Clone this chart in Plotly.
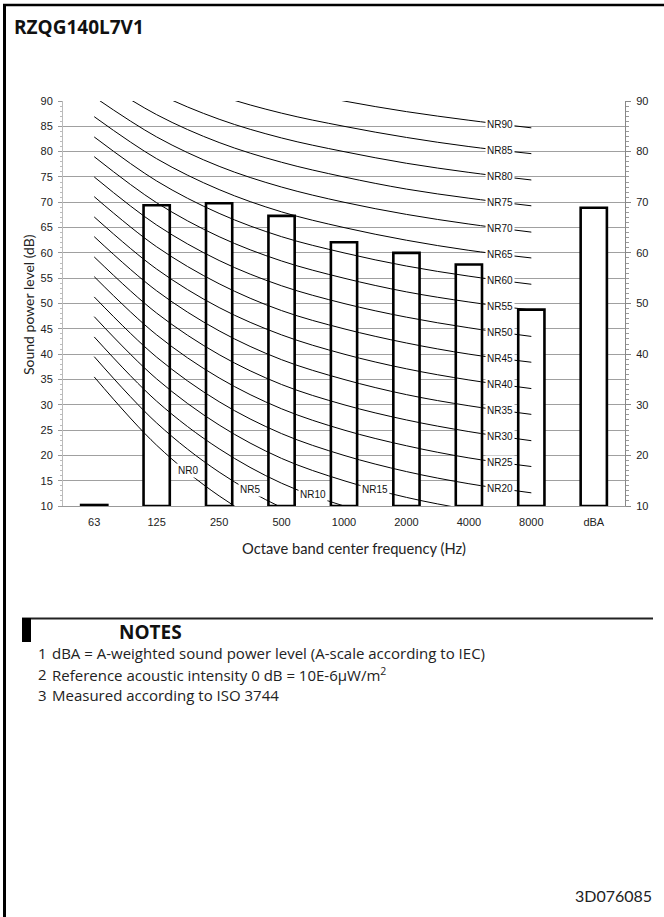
import plotly.graph_objects as go

# ---------------- data ----------------
title_text = "RZQG140L7V1"
bands = ["63", "125", "250", "500", "1000", "2000", "4000", "8000", "dBA"]
sound_power = [10.2, 69.4, 69.8, 67.3, 62.1, 60.0, 57.7, 48.8, 68.9]

nr_bands = ["63", "125", "250", "500", "1000", "2000", "4000", "8000"]
nr0 = [35.5, 22.0, 12.0, 4.8, 0.0, -3.5, -6.1, -8.0]
nr5 = [39.5, 26.4, 16.7, 9.7, 5.0, 1.6, -1.0, -2.9]
nr10 = [43.4, 30.7, 21.3, 14.5, 10.0, 6.7, 4.2, 2.3]
nr15 = [47.4, 35.1, 26.0, 19.4, 15.0, 11.7, 9.3, 7.5]
nr20 = [51.3, 39.4, 30.6, 24.3, 20.0, 16.8, 14.4, 12.6]
nr25 = [55.3, 43.8, 35.3, 29.2, 25.0, 21.9, 19.5, 17.8]
nr30 = [59.2, 48.1, 39.9, 34.0, 30.0, 27.0, 24.7, 22.9]
nr35 = [63.2, 52.5, 44.6, 38.9, 35.0, 32.0, 29.8, 28.1]
nr40 = [67.1, 56.8, 49.2, 43.8, 40.0, 37.1, 34.9, 33.2]
nr45 = [71.1, 61.2, 53.9, 48.6, 45.0, 42.2, 40.0, 38.4]
nr50 = [75.0, 65.5, 58.5, 53.5, 50.0, 47.3, 45.2, 43.5]
nr55 = [79.0, 69.9, 63.2, 58.4, 55.0, 52.3, 50.3, 48.7]
nr60 = [82.9, 74.2, 67.8, 63.2, 60.0, 57.4, 55.4, 53.8]
nr65 = [86.9, 78.6, 72.5, 68.1, 65.0, 62.5, 60.5, 59.0]
nr70 = [90.8, 82.9, 77.1, 73.0, 70.0, 67.6, 65.7, 64.1]
nr75 = [94.8, 87.3, 81.8, 77.9, 75.0, 72.6, 70.8, 69.3]
nr80 = [98.7, 91.6, 86.4, 82.7, 80.0, 77.7, 75.9, 74.4]
nr85 = [102.7, 96.0, 91.1, 87.6, 85.0, 82.8, 81.0, 79.6]
nr90 = [106.6, 100.3, 95.7, 92.5, 90.0, 87.9, 86.2, 84.7]
nr_names = ["NR0", "NR5", "NR10", "NR15", "NR20", "NR25", "NR30", "NR35", "NR40",
            "NR45", "NR50", "NR55", "NR60", "NR65", "NR70", "NR75", "NR80", "NR85", "NR90"]
nr_curves = [nr0, nr5, nr10, nr15, nr20, nr25, nr30, nr35, nr40, nr45,
             nr50, nr55, nr60, nr65, nr70, nr75, nr80, nr85, nr90]

y_left_ticks = [10, 15, 20, 25, 30, 35, 40, 45, 50, 55, 60, 65, 70, 75, 80, 85, 90]
y_right_ticks = [10, 20, 30, 40, 50, 60, 70, 80, 90]

y_title = "Sound power level (dB)"
x_title = "Octave band center frequency (Hz)"
notes_title = "NOTES"
note_numbers = ["1", "2", "3"]
notes = ["dBA = A-weighted sound power level (A-scale according to IEC)",
         "Reference acoustic intensity 0 dB = 10E-6μW/m<sup>2</sup>",
         "Measured according to ISO 3744"]
doc_code = "3D076085"

# ---------------- layout geometry ----------------
W, H = 664, 917
PL, PR, PT, PB = 63, 625, 101, 506


def px(x):
    return (x - PL) / (PR - PL)


def py(y):
    return (PB - y) / (PB - PT)


TICK_FONT = dict(family="Liberation Sans, Arial, sans-serif", size=11, color="#222")
HUM_FONT = "Lato, Open Sans, sans-serif"
NOTE_FONT = "Open Sans, sans-serif"

fig = go.Figure()

fig.add_trace(go.Bar(
    x=bands, y=[v - 10 for v in sound_power], base=10, width=0.42,
    marker=dict(color="white", line=dict(color="black", width=2.6)),
    hoverinfo="skip", showlegend=False,
))

for name, vals in zip(nr_names, nr_curves):
    fig.add_trace(go.Scatter(
        x=nr_bands, y=vals, mode="lines", yaxis="y2",
        line=dict(color="black", width=1, shape="spline", smoothing=1.0),
        hoverinfo="skip", showlegend=False,
    ))

annotations = []
# NR labels
low_labels = {"NR0": 1, "NR5": 2, "NR10": 3, "NR15": 4}
for name, vals in zip(nr_names, nr_curves):
    i = low_labels.get(name, 6)
    annotations.append(dict(
        x=i + 0.5, y=(vals[i] + vals[i + 1]) / 2, xref="x", yref="y",
        text=name, showarrow=False, bgcolor="white", borderpad=1,
        font=dict(family="Liberation Sans, Arial, sans-serif", size=10, color="#111"),
    ))

annotations += [
    dict(x=px(12), y=py(27), xref="paper", yref="paper", text=title_text,
         showarrow=False, xanchor="left", yanchor="middle",
         font=dict(family="Open Sans, sans-serif", size=19, color="#111", weight="bold")),
    dict(x=px(28), y=py(305), xref="paper", yref="paper", text=y_title, textangle=-90,
         showarrow=False, xanchor="center", yanchor="middle",
         font=dict(family=HUM_FONT, size=14, color="#222")),
    dict(x=px(354), y=py(548), xref="paper", yref="paper", text=x_title,
         showarrow=False, xanchor="center", yanchor="middle",
         font=dict(family=HUM_FONT, size=14.7, color="#222")),
    dict(x=px(117), y=py(632), xref="paper", yref="paper", text=notes_title,
         showarrow=False, xanchor="left", yanchor="middle",
         font=dict(family="Open Sans, sans-serif", size=19, color="#111", weight="bold")),
    dict(x=px(654), y=py(896), xref="paper", yref="paper", text=doc_code,
         showarrow=False, xanchor="right", yanchor="middle",
         font=dict(family=HUM_FONT, size=16, color="#222")),
]
for k, (num, txt) in enumerate(zip(note_numbers, notes)):
    yy = [653, 674, 695][k]
    annotations.append(dict(x=px(36), y=py(yy), xref="paper", yref="paper", text=num,
                            showarrow=False, xanchor="left", yanchor="middle",
                            font=dict(family=NOTE_FONT, size=15, color="#222")))
    annotations.append(dict(x=px(50), y=py(yy), xref="paper", yref="paper", text=txt,
                            showarrow=False, xanchor="left", yanchor="middle",
                            font=dict(family=NOTE_FONT, size=15, color="#222")))

shapes = [
    dict(type="line", xref="paper", yref="paper", x0=px(3), x1=px(664), y0=py(5), y1=py(5),
         line=dict(color="black", width=2.5)),
    dict(type="line", xref="paper", yref="paper", x0=px(4.5), x1=px(4.5), y0=py(4), y1=py(917),
         line=dict(color="black", width=3)),
    dict(type="line", xref="paper", yref="paper", x0=px(22), x1=px(653), y0=py(618.5), y1=py(618.5),
         line=dict(color="#222", width=2)),
    dict(type="rect", xref="paper", yref="paper", x0=px(22), x1=px(31), y0=py(618), y1=py(642),
         fillcolor="black", line=dict(width=0)),
]

fig.update_layout(
    width=W, height=H,
    margin=dict(l=PL, r=W - PR, t=PT, b=H - PB, pad=0),
    paper_bgcolor="white", plot_bgcolor="white",
    showlegend=False,
    annotations=annotations, shapes=shapes,
    xaxis=dict(type="category", categoryarray=bands, categoryorder="array",
               range=[-0.5, 8.5], showgrid=False, ticks="", tickfont=TICK_FONT,
               ticklabelstandoff=6, showline=True, linecolor="#999", linewidth=1,
               zeroline=False, fixedrange=True),
    yaxis=dict(range=[10, 90], tickvals=y_left_ticks, showgrid=True, gridcolor="#a0a0a0",
               gridwidth=1, ticks="outside", ticklen=4, tickcolor="#999", tickfont=TICK_FONT,
               ticklabelstandoff=3,
               minor=dict(ticks="outside", ticklen=2, dtick=1, tickcolor="#bbb", showgrid=False),
               showline=True, linecolor="#bbb", zeroline=False, fixedrange=True),
    yaxis2=dict(range=[10, 90], overlaying="y", side="right", tickvals=y_right_ticks,
                showgrid=False, ticks="outside", ticklen=5, tickcolor="#888", tickfont=TICK_FONT,
                ticklabelstandoff=3,
                minor=dict(ticks="outside", ticklen=3, dtick=1, tickcolor="#999", showgrid=False),
                showline=True, linecolor="#888", zeroline=False, fixedrange=True),
)

fig.write_html("out.html", config={"displayModeBar": False},
               post_script="document.body.style.margin='0';document.body.style.overflow='hidden';")
